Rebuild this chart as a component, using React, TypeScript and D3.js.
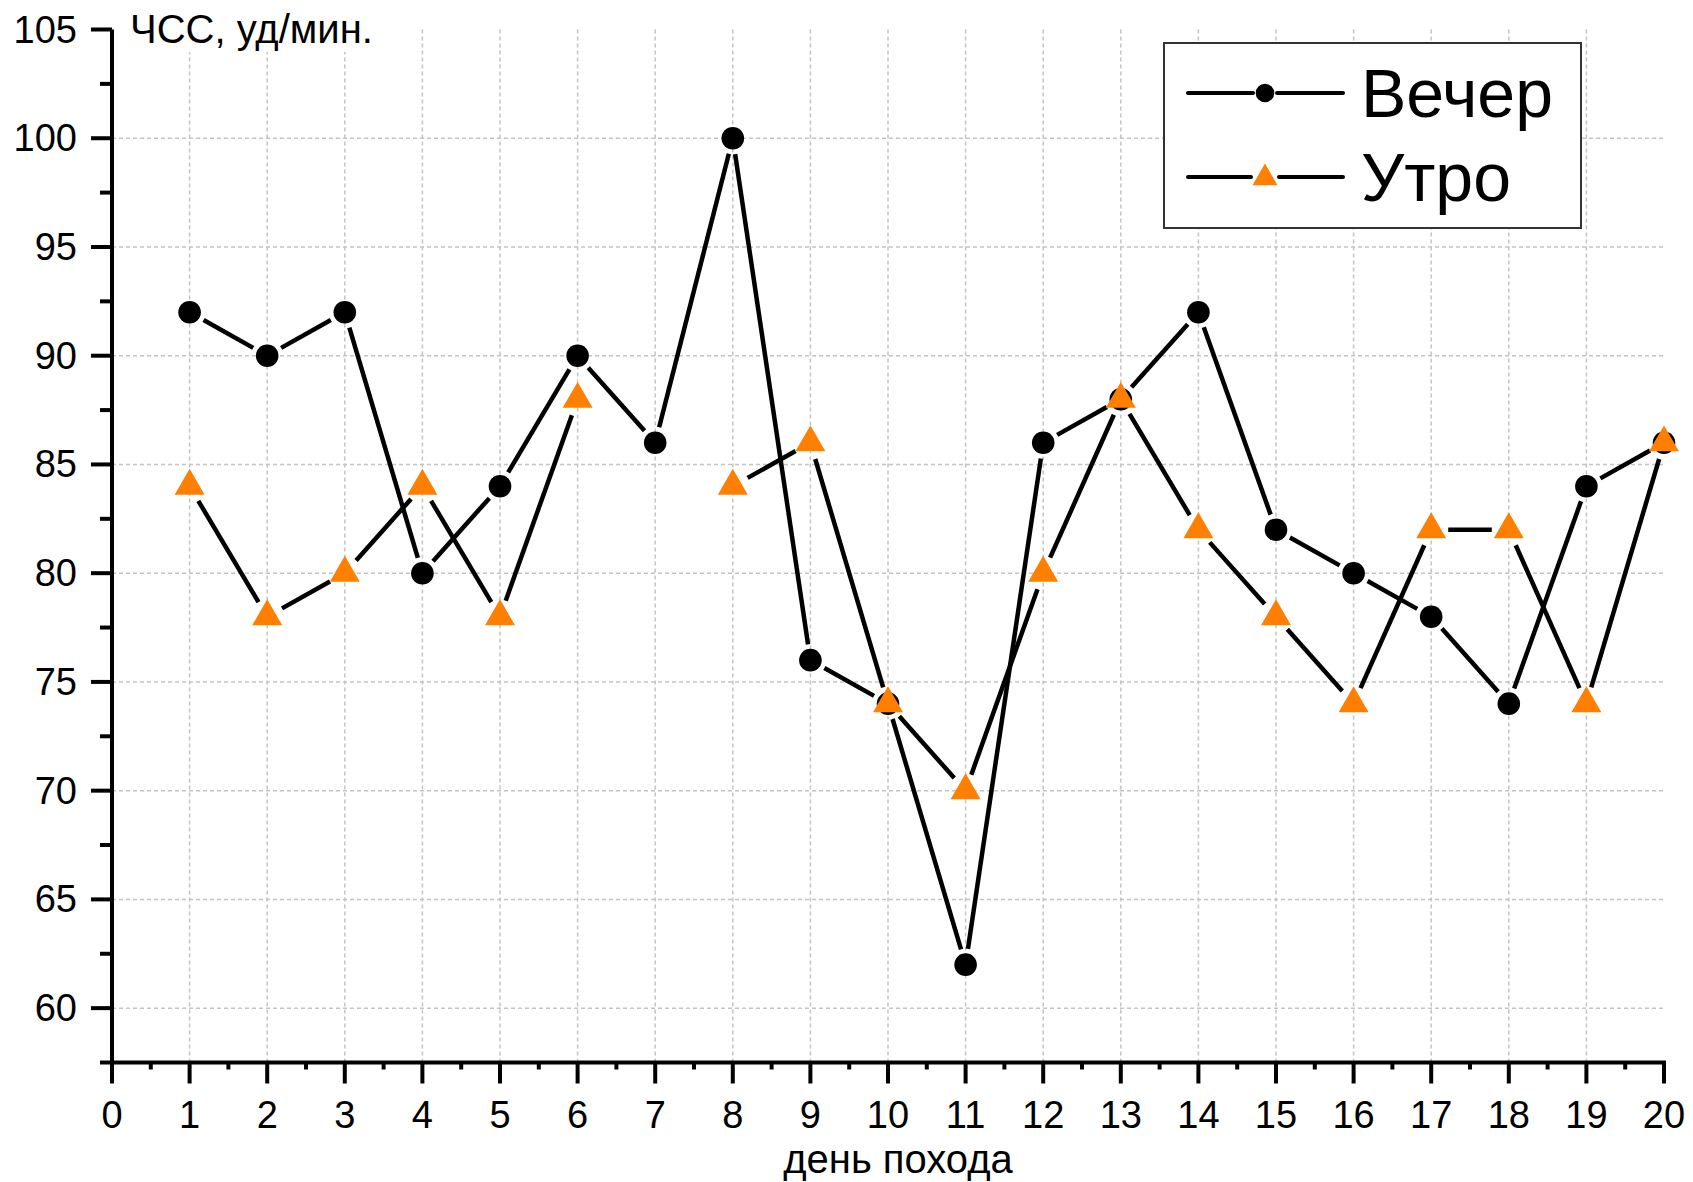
import React from 'react';
import * as d3 from 'd3';

// ---- data ----
const days: number[] = [1, 2, 3, 4, 5, 6, 7, 8, 9, 10, 11, 12, 13, 14, 15, 16, 17, 18, 19, 20];
const eveningHR: (number | null)[] = [92, 90, 92, 80, 84, 90, 86, 100, 76, 74, 62, 86, 88, 92, 82, 80, 78, 74, 84, 86];
const morningHR: (number | null)[] = [84, 78, 80, 84, 78, 88, null, 84, 86, 74, 70, 80, 88, 82, 78, 74, 82, 82, 74, 86];
const xTickValues: number[] = [0, 1, 2, 3, 4, 5, 6, 7, 8, 9, 10, 11, 12, 13, 14, 15, 16, 17, 18, 19, 20];
const yTickValues: number[] = [60, 65, 70, 75, 80, 85, 90, 95, 100, 105];
const seriesNames: string[] = ['Вечер', 'Утро'];
const yAxisTitle = 'ЧСС, уд/мин.';
const xAxisTitle = 'день похода';

const W = 1693;
const H = 1182;
const FONT = '"Liberation Sans", Arial, Helvetica, sans-serif';
const ORANGE = '#FF8000';
const GRID = '#c4c4c4';

const x = d3.scaleLinear().domain([0, 20]).range([112, 1664]);
const y = d3.scaleLinear().domain([57.5, 105]).range([1062.5, 29.5]);

type Pt = [number, number];

function gappedSegments(vals: (number | null)[], gap: number): Pt[][] {
  const segs: Pt[][] = [];
  for (let i = 0; i < vals.length - 1; i++) {
    const a = vals[i];
    const b = vals[i + 1];
    if (a == null || b == null) continue;
    const x1 = x(days[i]), y1 = y(a), x2 = x(days[i + 1]), y2 = y(b);
    const dx = x2 - x1, dy = y2 - y1;
    const len = Math.hypot(dx, dy);
    if (len <= 2 * gap) continue;
    segs.push([
      [x1 + (dx / len) * gap, y1 + (dy / len) * gap],
      [x2 - (dx / len) * gap, y2 - (dy / len) * gap],
    ]);
  }
  return segs;
}

const lineGen = d3.line<Pt>().x((d) => d[0]).y((d) => d[1]);

function triPath(cx: number, cy: number, side: number): string {
  const h = (side * Math.sqrt(3)) / 2;
  return `M${cx},${cy - (2 * h) / 3}L${cx + side / 2},${cy + h / 3}L${cx - side / 2},${cy + h / 3}Z`;
}

export default function App() {
  const yMinor = d3.range(57.5, 105, 5);
  const xMinor = d3.range(0.5, 20, 1);
  const gridY = yTickValues.filter((v) => v < 105);
  const gridX = xTickValues.filter((v) => v > 0 && v < 20);
  const x0 = x(0);
  const yBase = y(57.5);

  const eveSegs = gappedSegments(eveningHR, 16);
  const morSegs = gappedSegments(morningHR, 17);

  // legend geometry
  const lg = { x: 1164, y: 43, w: 417, h: 185 };
  const lgLineX1 = 1188, lgLineX2 = 1343, lgMarkX = 1265;
  const lgRow1 = 93, lgRow2 = 177;

  return (
    <svg
      width={W}
      height={H}
      viewBox={`0 0 ${W} ${H}`}
      style={{ position: 'absolute', left: 0, top: 0, background: '#fff' }}
      fontFamily={FONT}
    >
      <rect x={0} y={0} width={W} height={H} fill="#fff" />

      {/* grid */}
      <g stroke={GRID} strokeWidth={1.5} strokeDasharray="4 3">
        {gridY.map((v) => (
          <line key={'gy' + v} x1={x0} x2={x(20)} y1={y(v)} y2={y(v)} />
        ))}
        {gridX.map((v) => (
          <line key={'gx' + v} x1={x(v)} x2={x(v)} y1={yBase} y2={y(105)} />
        ))}
      </g>

      {/* y-axis title with white background */}
      <rect x={124} y={18} width={252} height={34} fill="#fff" />
      <text x={130} y={43} fontSize={40} fill="#000">
        {yAxisTitle}
      </text>

      {/* axes */}
      <g stroke="#000" strokeWidth={4}>
        <line x1={x0} x2={x0} y1={y(105)} y2={yBase} />
        <line x1={x0 - 2} x2={x(20) + 2} y1={yBase} y2={yBase} />
        {yTickValues.map((v) => (
          <line key={'yt' + v} x1={x0 - 21} x2={x0} y1={y(v)} y2={y(v)} />
        ))}
        {yMinor.map((v) => (
          <line key={'ym' + v} x1={x0 - 12} x2={x0} y1={y(v)} y2={y(v)} />
        ))}
        {xTickValues.map((v) => (
          <line key={'xt' + v} x1={x(v)} x2={x(v)} y1={yBase} y2={yBase + 21} />
        ))}
        {xMinor.map((v) => (
          <line key={'xm' + v} x1={x(v)} x2={x(v)} y1={yBase} y2={yBase + 7} />
        ))}
      </g>

      {/* tick labels */}
      <g fontSize={38} fill="#000">
        {yTickValues.map((v) => (
          <text key={'yl' + v} x={x0 - 35} y={y(v) + 13} textAnchor="end">
            {v}
          </text>
        ))}
        {xTickValues.map((v) => (
          <text key={'xl' + v} x={x(v)} y={1128} textAnchor="middle">
            {v}
          </text>
        ))}
      </g>

      {/* x-axis title */}
      <text x={(x(0) + x(20)) / 2 + 10} y={1173} fontSize={40} textAnchor="middle" fill="#000">
        {xAxisTitle}
      </text>

      {/* Вечер series */}
      <g>
        {eveSegs.map((s, i) => (
          <path key={'es' + i} d={lineGen(s) || ''} stroke="#000" strokeWidth={4.5} fill="none" />
        ))}
        {eveningHR.map((v, i) =>
          v == null ? null : <circle key={'ec' + i} cx={x(days[i])} cy={y(v)} r={11.3} fill="#000" />
        )}
      </g>

      {/* Утро series */}
      <g>
        {morSegs.map((s, i) => (
          <path key={'ms' + i} d={lineGen(s) || ''} stroke="#000" strokeWidth={4.5} fill="none" />
        ))}
        {morningHR.map((v, i) =>
          v == null ? null : <path key={'mt' + i} d={triPath(x(days[i]), y(v), 30)} fill={ORANGE} />
        )}
      </g>

      {/* legend */}
      <g>
        <rect x={lg.x} y={lg.y} width={lg.w} height={lg.h} fill="#fff" stroke="#333" strokeWidth={2} />
        <g stroke="#000" strokeWidth={4} strokeLinecap="round">
          <line x1={lgLineX1} x2={lgMarkX - 12} y1={lgRow1} y2={lgRow1} />
          <line x1={lgMarkX + 12} x2={lgLineX2} y1={lgRow1} y2={lgRow1} />
          <line x1={lgLineX1} x2={lgMarkX - 14} y1={lgRow2} y2={lgRow2} />
          <line x1={lgMarkX + 14} x2={lgLineX2} y1={lgRow2} y2={lgRow2} />
        </g>
        <circle cx={lgMarkX} cy={lgRow1} r={9.3} fill="#000" />
        <path d={triPath(lgMarkX, lgRow2 + 1, 25)} fill={ORANGE} />
        <text x={1361} y={117} fontSize={68} fill="#000">
          {seriesNames[0]}
        </text>
        <text x={1361} y={201} fontSize={68} fill="#000">
          {seriesNames[1]}
        </text>
      </g>
    </svg>
  );
}
